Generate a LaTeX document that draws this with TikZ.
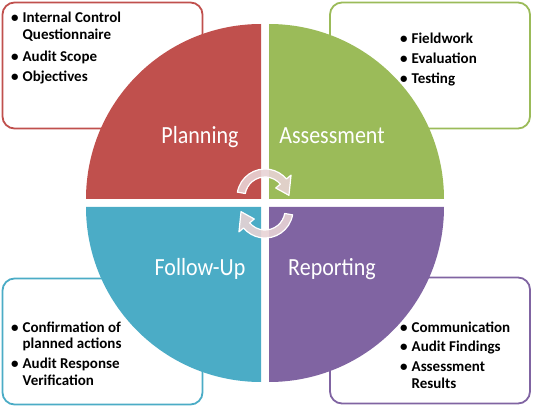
\documentclass[tikz,border=0pt]{standalone}
\usepackage{fontspec}
\usepackage{graphicx}
\setmainfont{Carlito}

\definecolor{planred}{HTML}{C0504D}
\definecolor{assessgreen}{HTML}{9BBB59}
\definecolor{followblue}{HTML}{4BACC6}
\definecolor{reportpurple}{HTML}{8064A2}
\definecolor{arrowpink}{HTML}{E8D3D5}

% bullet list set as a two column table
\newcommand{\bulletlist}[1]{\begin{tabular}[t]{@{}l@{\hspace{4pt}}l@{}}#1\end{tabular}}
% quarter labels are a little taller than wide
\newcommand{\phaselabel}[1]{\scalebox{1}[1.12]{#1}}

\begin{document}
\begin{tikzpicture}[x=1pt, y=1pt,
  listbox/.style={draw=#1, line width=1.8pt, rounded corners=12pt, fill=white,
    minimum width=200pt, minimum height=126pt, inner sep=0pt},
  listtext/.style={anchor=base west, inner sep=0pt,
    font=\fontsize{15}{17}\selectfont\bfseries},
  quarter/.style={fill=#1, draw=none},
  phase/.style={anchor=base, text=white, inner sep=0pt,
    font=\fontsize{22}{26}\selectfont},
  turnarrow/.style={fill=arrowpink, fill opacity=0.9, draw=white, line width=1.2pt, line join=round}]
\useasboundingbox (0,0) rectangle (542,408);

% boxes behind the circle
\node[listbox=planred] (planbox) at (102.5,342.5) {};
\node[listbox=assessgreen] (assessbox) at (430,342.5) {};
\node[listbox=followblue] (followbox) at (102.5,66.5) {};
\node[listbox=reportpurple] (reportbox) at (430,67.5) {};

\node[listtext] (plantext) at (11,385) {\bulletlist{%
  \textbullet & Internal Control\\ & Questionnaire\\[5pt]
  \textbullet & Audit Scope\\[3pt]
  \textbullet & Objectives}};
\node[listtext] (assesstext) at (400,364) {\bulletlist{%
  \textbullet & Fieldwork\\[3pt]
  \textbullet & Evaluation\\[3pt]
  \textbullet & Testing}};
\node[listtext] (followtext) at (11,76) {\bulletlist{%
  \textbullet & Confirmation of\\ & planned actions\\[3pt]
  \textbullet & Audit Response\\ & Verification}};
\node[listtext] (reporttext) at (400,76) {\bulletlist{%
  \textbullet & Communication\\[3pt]
  \textbullet & Audit Findings\\[3pt]
  \textbullet & Assessment\\ & Results}};

% the four quarters
\fill[quarter=planred] (261,209) -- ++(-175,0) arc[start angle=180, end angle=90, radius=175] -- cycle;
\fill[quarter=assessgreen] (269,209) -- ++(0,175) arc[start angle=90, end angle=0, radius=175] -- cycle;
\fill[quarter=followblue] (261,201) -- ++(-175,0) arc[start angle=180, end angle=270, radius=175] -- cycle;
\fill[quarter=reportpurple] (269,201) -- ++(175,0) arc[start angle=0, end angle=-90, radius=175] -- cycle;

\node[phase] (planning) at (200,264) {\phaselabel{Planning}};
\node[phase] (assessment) at (332,264) {\phaselabel{Assessment}};
\node[phase] (followup) at (200,132) {\phaselabel{Follow-Up}};
\node[phase] (reporting) at (332,132) {\phaselabel{Reporting}};

% turning arrows in the middle
\begin{scope}[shift={(265,211)}]
  \draw[turnarrow] (170:28) arc[start angle=170, end angle=40, radius=28] -- (40:34) -- (4:24)
    -- (40:14) -- (40:20) arc[start angle=40, end angle=170, radius=20] -- cycle;
\end{scope}
\begin{scope}[shift={(265,198)}, rotate=180]
  \draw[turnarrow] (170:28) arc[start angle=170, end angle=40, radius=28] -- (40:34) -- (4:24)
    -- (40:14) -- (40:20) arc[start angle=40, end angle=170, radius=20] -- cycle;
\end{scope}
\end{tikzpicture}
\end{document}
